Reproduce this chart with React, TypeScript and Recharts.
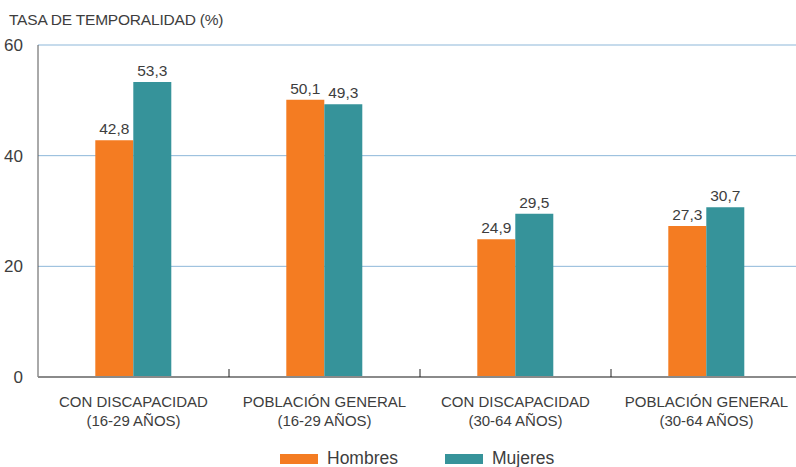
import React from "react";

//recharts
import { BarChart, Bar, XAxis, YAxis, CartesianGrid, LabelList } from "recharts";

//data
const categories = [
  ["CON DISCAPACIDAD", "(16-29 AÑOS)"],
  ["POBLACIÓN GENERAL", "(16-29 AÑOS)"],
  ["CON DISCAPACIDAD", "(30-64 AÑOS)"],
  ["POBLACIÓN GENERAL", "(30-64 AÑOS)"],
];
const hombres = [42.8, 50.1, 24.9, 27.3];
const mujeres = [53.3, 49.3, 29.5, 30.7];
const yTicks = [0, 20, 40, 60];

const series = [
  { key: "Hombres", color: "#F47C22", values: hombres },
  { key: "Mujeres", color: "#36939A", values: mujeres },
];

const data = categories.map((c, i) => ({
  name: c.join("\n"),
  Hombres: hombres[i],
  Mujeres: mujeres[i],
}));

const FONT = "'Liberation Sans', Arial, sans-serif";
const TEXT = "#3d3d3d";

const fmt = (v: any) => String(v).replace(".", ",");

// category label in two lines, plus a small divider tick halfway to the next category
const CategoryTick = (props: any) => {
  const { x, y, payload, index } = props;
  const [l1, l2] = String(payload.value).split("\n");
  const half = payload.offset ?? 95;
  return (
    <g>
      {index < categories.length - 1 && (
        <line x1={x + half} x2={x + half} y1={y - 8} y2={y} stroke="#222" strokeWidth={1} />
      )}
      <text x={x} y={y + 30} textAnchor="middle" fill={TEXT} fontSize={15} fontFamily={FONT}>
        {l1}
      </text>
      <text x={x} y={y + 49} textAnchor="middle" fill={TEXT} fontSize={15} fontFamily={FONT}>
        {l2}
      </text>
    </g>
  );
};

const Chart = () => {
  return (
    <div
      style={{
        position: "absolute",
        left: 0,
        top: 0,
        width: 796,
        height: 467,
        overflow: "hidden",
        background: "#fff",
        fontFamily: FONT,
      }}
    >
      <div
        style={{
          position: "absolute",
          left: 9,
          top: 11,
          fontSize: 15.5,
          color: TEXT,
          letterSpacing: -0.2,
        }}
      >
        TASA DE TEMPORALIDAD (%)
      </div>
      <BarChart
        width={810}
        height={467}
        data={data}
        barCategoryGap="30%"
        barGap={0}
        margin={{ top: 45, right: 8, left: 0, bottom: 0 }}
      >
        <CartesianGrid vertical={false} stroke="#8DB7D9" strokeWidth={1} />
        <YAxis
          width={38}
          domain={[0, 60]}
          ticks={yTicks}
          tickLine={false}
          axisLine={{ stroke: "#555", strokeWidth: 1 }}
          tick={{ fill: TEXT, fontSize: 17, fontFamily: FONT }}
          tickMargin={9}
        />
        <XAxis
          dataKey="name"
          height={90}
          tickLine={false}
          tickSize={0}
          tickMargin={0}
          interval={0}
          axisLine={{ stroke: "#8a8a8a", strokeWidth: 2 }}
          tick={<CategoryTick />}
        />
        {series.map((s) => (
          <Bar key={s.key} dataKey={s.key} fill={s.color} isAnimationActive={false}>
            <LabelList
              dataKey={s.key}
              position="top"
              offset={6}
              formatter={fmt}
              fill={TEXT}
              fontSize={15.5}
              fontFamily={FONT}
            />
          </Bar>
        ))}
      </BarChart>
      {/* legend */}
      {series.map((s, i) => (
        <div
          key={s.key}
          style={{
            position: "absolute",
            left: 280 + i * 165,
            top: 448,
            display: "flex",
            alignItems: "center",
            fontSize: 17.5,
            color: TEXT,
          }}
        >
          <span
            style={{ display: "inline-block", width: 38, height: 10, background: s.color, marginRight: 9 }}
          />
          {s.key}
        </div>
      ))}
    </div>
  );
};

export default function App() {
  return <Chart />;
}
